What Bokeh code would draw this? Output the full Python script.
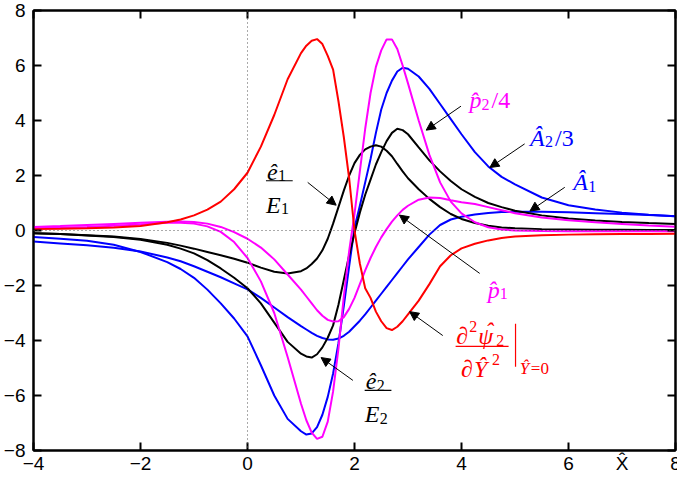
from bokeh.plotting import figure
from bokeh.models import (LinearAxis, FixedTicker, Span, Label, Arrow,
                          NormalHead, Range1d, ColumnDataSource)
from bokeh.embed import file_html
from bokeh.resources import INLINE

# ---------------- data ----------------
x_hat = [-4, -3.5, -3, -2.5, -2, -1.5, -1.25, -1, -0.75, -0.5, -0.25, 0, 0.25, 0.5, 0.75,
         1.0, 1.1, 1.2, 1.3, 1.4, 1.5, 1.6, 1.7, 1.8, 1.9, 2.0, 2.1, 2.2, 2.3, 2.4, 2.5,
         2.6, 2.7, 2.8, 2.9, 3.0, 3.2, 3.4, 3.6, 3.8, 4.0, 4.25, 4.5, 4.75, 5.0, 5.5, 6.0,
         6.5, 7.0, 7.5, 8.0]

psi2_yy = [0.05, 0.06, 0.08, 0.11, 0.16, 0.3, 0.4, 0.55, 0.76, 1.05, 1.5, 2.1, 3.05, 4.2, 5.5,
           6.45, 6.72, 6.9, 6.96, 6.78, 6.35, 5.85, 4.7, 3.4, 1.9, 0.0, -1.2, -2.1, -2.45, -2.95, -3.3,
           -3.55, -3.62, -3.5, -3.3, -3.05, -2.55, -1.95, -1.3, -0.9, -0.65, -0.48, -0.36, -0.27, -0.22, -0.17, -0.15,
           -0.14, -0.13, -0.13, -0.12]

A2_over_3 = [-0.24, -0.3, -0.37, -0.52, -0.78, -1.15, -1.4, -1.72, -2.15, -2.65, -3.2, -3.85, -4.9, -6.0, -6.85,
             -7.3, -7.42, -7.38, -7.15, -6.7, -6.05, -5.2, -4.1, -2.75, -1.3, 0.1, 0.9, 1.75, 2.6, 3.55, 4.4,
             5.0, 5.45, 5.78, 5.92, 5.88, 5.6, 5.15, 4.6, 4.05, 3.5, 2.85, 2.33, 1.95, 1.68, 1.2, 0.92,
             0.76, 0.65, 0.57, 0.52]

A1 = [-0.4, -0.47, -0.54, -0.63, -0.76, -0.98, -1.12, -1.3, -1.5, -1.7, -1.92, -2.14, -2.45, -2.8, -3.15,
      -3.48, -3.6, -3.72, -3.83, -3.91, -3.96, -3.97, -3.93, -3.83, -3.68, -3.48, -3.28, -3.05, -2.8, -2.55, -2.3,
      -2.05, -1.8, -1.55, -1.3, -1.05, -0.6, -0.15, 0.2, 0.4, 0.5, 0.58, 0.64, 0.67, 0.68, 0.68, 0.66,
      0.63, 0.6, 0.56, 0.52]

e1_over_E1 = [-0.1, -0.13, -0.17, -0.22, -0.31, -0.45, -0.55, -0.66, -0.78, -0.9, -1.03, -1.17, -1.35, -1.5, -1.56,
              -1.48, -1.38, -1.22, -1.02, -0.72, -0.3, 0.25, 0.85, 1.45, 2.0, 2.45, 2.75, 2.95, 3.05, 3.1, 3.05,
              2.9, 2.7, 2.42, 2.15, 1.9, 1.5, 1.15, 0.85, 0.6, 0.42, 0.27, 0.17, 0.11, 0.08, 0.05, 0.04,
              0.03, 0.03, 0.02, 0.02]

e2_over_E2 = [-0.1, -0.13, -0.18, -0.24, -0.34, -0.52, -0.66, -0.83, -1.08, -1.38, -1.72, -2.1, -2.65, -3.35, -4.05,
              -4.48, -4.58, -4.62, -4.5, -4.25, -3.9, -3.45, -2.7, -1.8, -0.9, -0.1, 0.65, 1.3, 1.85, 2.4, 2.85,
              3.25, 3.55, 3.7, 3.65, 3.5, 3.02, 2.55, 2.15, 1.8, 1.5, 1.22, 1.0, 0.85, 0.72, 0.55, 0.44,
              0.36, 0.31, 0.27, 0.24]

p1 = [0.13, 0.16, 0.2, 0.24, 0.28, 0.32, 0.33, 0.31, 0.25, 0.13, -0.06, -0.3, -0.62, -1.05, -1.6,
      -2.15, -2.4, -2.65, -2.9, -3.1, -3.25, -3.31, -3.3, -3.15, -2.85, -2.45, -1.95, -1.45, -1.0, -0.6, -0.25,
      0.05, 0.32, 0.55, 0.75, 0.9, 1.12, 1.2, 1.18, 1.1, 1.03, 0.96, 0.85, 0.74, 0.63, 0.47, 0.37,
      0.3, 0.24, 0.18, 0.14]

p2_over_4 = [0.08, 0.1, 0.13, 0.17, 0.22, 0.28, 0.28, 0.25, 0.15, -0.05, -0.42, -1.0, -1.85, -3.0, -4.6,
             -6.3, -6.9, -7.35, -7.58, -7.5, -6.95, -5.85, -4.3, -2.4, -0.75, 0.6, 2.15, 3.7, 5.0, 5.95, 6.55,
             6.95, 6.95, 6.6, 6.0, 5.35, 4.0, 2.75, 1.75, 1.05, 0.62, 0.3, 0.12, 0.04, 0.0, -0.02, -0.03,
             -0.03, -0.03, -0.03, -0.03]

x_tick_values = [-4, -2, 0, 2, 4, 6, 8]
y_tick_values = [-8, -6, -4, -2, 0, 2, 4, 6, 8]
x_axis_name = "X̂"
x_axis_name_at = 7

RED, BLUE, MAGENTA, BLACK = "#ff0000", "#0000ff", "#ff00ff", "#000000"

# ---------------- figure ----------------
p = figure(width=677, height=476, x_range=Range1d(-4, 8), y_range=Range1d(-8, 8),
           output_backend="svg", toolbar_location=None,
           min_border_left=27, min_border_right=2, min_border_top=10, min_border_bottom=26)
p.background_fill_color = "white"
p.border_fill_color = "white"
p.grid.visible = False
p.outline_line_color = "black"
p.outline_line_width = 2

tick_font = "Liberation Sans"

def frame_axis(ax, ticks):
    ax.ticker = FixedTicker(ticks=ticks)
    ax.axis_line_width = 2
    ax.major_tick_in = 8
    ax.major_tick_out = 0
    ax.major_tick_line_width = 2
    ax.minor_tick_line_color = None

# bottom: tick marks only (labels come from the label axis below it)
frame_axis(p.xaxis[0], x_tick_values)
p.xaxis[0].major_label_text_font_size = "0px"
p.xaxis[0].major_label_text_color = None
p.xaxis[0].major_label_standoff = 0

# left: ticks and labels
frame_axis(p.yaxis[0], y_tick_values)
p.yaxis[0].major_label_text_font = tick_font
p.yaxis[0].major_label_text_font_size = "19px"
p.yaxis[0].major_label_text_color = "black"
p.yaxis[0].major_label_standoff = 8

# bottom label row: numbers plus the axis name X-hat
label_ax = LinearAxis(ticker=FixedTicker(ticks=x_tick_values + [x_axis_name_at]),
                      major_label_overrides={x_axis_name_at: x_axis_name})
label_ax.axis_line_color = None
label_ax.major_tick_line_color = None
label_ax.minor_tick_line_color = None
label_ax.major_tick_in = 0
label_ax.major_tick_out = 0
label_ax.major_label_standoff = 2
label_ax.major_label_text_font = tick_font
label_ax.major_label_text_font_size = "19px"
label_ax.major_label_text_color = "black"
p.add_layout(label_ax, "below")

# mirrored ticks on top and right
top_ax = LinearAxis()
right_ax = LinearAxis()
frame_axis(top_ax, x_tick_values)
frame_axis(right_ax, y_tick_values)
for ax in (top_ax, right_ax):
    ax.major_label_text_font_size = "0px"
    ax.major_label_text_color = None
    ax.major_label_standoff = 0
p.add_layout(top_ax, "above")
p.add_layout(right_ax, "right")

# zero reference lines
p.add_layout(Span(location=0, dimension="width", line_color="#555555", line_width=1, line_dash="1 3"))
p.add_layout(Span(location=0, dimension="height", line_color="#555555", line_width=1, line_dash="1 3"))

src = ColumnDataSource(dict(x=x_hat, red=psi2_yy, a2=A2_over_3, a1=A1, e1=e1_over_E1,
                            e2=e2_over_E2, p1=p1, p2=p2_over_4))
for col, color in [("a1", BLUE), ("a2", BLUE), ("e1", BLACK), ("e2", BLACK),
                   ("p1", MAGENTA), ("p2", MAGENTA), ("red", RED)]:
    p.line("x", col, source=src, line_color=color, line_width=2)

# ---------------- annotations ----------------
serif = "Liberation Serif"

def txt(x, y, text, color, size=24, italic=True, xoff=0, yoff=0, align="left"):
    p.add_layout(Label(x=x, y=y, x_offset=xoff, y_offset=yoff, text=text, text_color=color,
                       text_font=serif, text_font_style="italic" if italic else "normal",
                       text_font_size=f"{size}px", text_align=align,
                       text_baseline="alphabetic", level="overlay"))

def sub(x, y, text, color, xoff, size=16):
    txt(x, y, text, color, size=size, italic=False, xoff=xoff, yoff=-4)

def sup(x, y, text, color, xoff, size=16):
    txt(x, y, text, color, size=size, italic=False, xoff=xoff, yoff=10)

def bar(x0, y0, x1, y1, color):
    p.add_layout(Arrow(end=None, x_start=x0, y_start=y0, x_end=x1, y_end=y1,
                       line_color=color, line_width=1.2))

def arrow(x0, y0, x1, y1):
    p.add_layout(Arrow(end=NormalHead(size=9, fill_color="black", line_color="black", line_width=1),
                       x_start=x0, y_start=y0, x_end=x1, y_end=y1,
                       line_color="black", line_width=1))

# e1/E1
txt(0.345, 2.14, "ê", BLACK, xoff=1)
sub(0.345, 2.14, "1", BLACK, xoff=12)
bar(0.345, 1.81, 0.845, 1.81, BLACK)
txt(0.345, 0.93, "E", BLACK)
sub(0.345, 0.93, "1", BLACK, xoff=15)
arrow(1.125, 1.75, 1.657, 0.92)

# e2/E2
txt(2.19, -5.48, "ê", BLACK, xoff=1)
sub(2.19, -5.48, "2", BLACK, xoff=12)
bar(2.19, -5.81, 2.69, -5.81, BLACK)
txt(2.19, -6.68, "E", BLACK)
sub(2.19, -6.68, "2", BLACK, xoff=15)
arrow(1.97, -5.45, 1.375, -4.62)

# p2/4
txt(4.15, 4.73, "p̂", MAGENTA)
sub(4.15, 4.73, "2", MAGENTA, xoff=12)
txt(4.15, 4.73, "/4", MAGENTA, italic=False, xoff=22)
arrow(3.99, 4.52, 3.34, 3.65)

# A2/3
txt(5.28, 3.38, "Â", BLUE)
sub(5.28, 3.38, "2", BLUE, xoff=15)
txt(5.28, 3.38, "/3", BLUE, italic=False, xoff=25)
arrow(5.18, 3.15, 4.53, 2.29)

# A1
txt(6.09, 1.75, "Â", BLUE)
sub(6.09, 1.75, "1", BLUE, xoff=15)
arrow(5.93, 1.57, 5.28, 0.71)

# p1
txt(4.49, -2.15, "p̂", MAGENTA)
sub(4.49, -2.15, "1", MAGENTA, xoff=12)
arrow(4.34, -1.56, 2.84, 0.56)

# d2 psi_2 / dY2 evaluated at Y=0
txt(3.9, -3.85, "∂", RED)
sup(3.9, -3.85, "2", RED, xoff=13)
txt(3.9, -3.85, "ψ", RED, xoff=22)
txt(3.9, -3.85, "ˆ", RED, xoff=33, yoff=5, align="center")
sub(3.9, -3.85, "2", RED, xoff=40)
bar(3.89, -4.21, 4.88, -4.21, RED)
txt(3.99, -5.05, "∂", RED)
txt(3.99, -5.05, "Ŷ", RED, xoff=13)
sup(3.99, -5.05, "2", RED, xoff=31)
bar(5.01, -3.39, 5.01, -4.95, RED)
txt(5.09, -5.01, "Ŷ", RED, size=17)
txt(5.09, -5.01, "=0", RED, size=17, italic=False, xoff=11)
arrow(3.65, -3.82, 3.03, -2.95)

open("out.html", "w").write(file_html(p, INLINE))
